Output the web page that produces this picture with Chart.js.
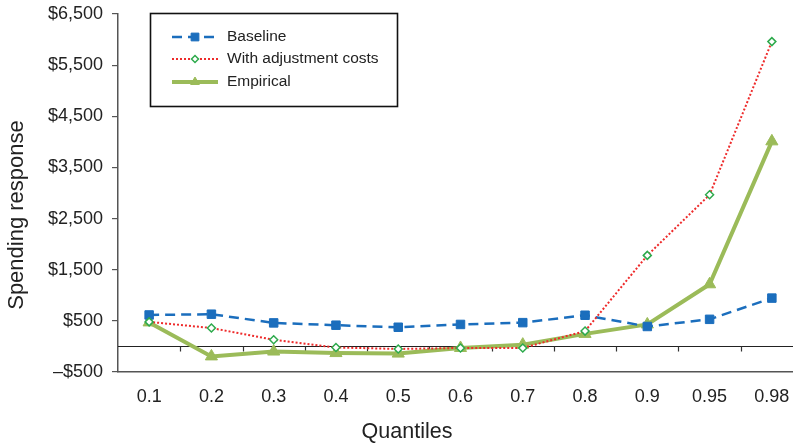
<!DOCTYPE html>
<html>
<head>
<meta charset="utf-8">
<script src="https://cdn.jsdelivr.net/npm/chart.js@4.4.1/dist/chart.umd.min.js"></script>
<style>
  html, body { margin: 0; padding: 0; background: #fff; overflow: hidden; }
  #wrap { width: 811px; height: 445px; }
</style>
</head>
<body>
<div id="wrap"><canvas id="c" width="811" height="445"></canvas></div>
<script>
const categories = ['0.1', '0.2', '0.3', '0.4', '0.5', '0.6', '0.7', '0.8', '0.9', '0.95', '0.98'];
const baseline = [615, 630, 460, 415, 375, 430, 465, 610, 390, 530, 945];
const adjustment = [480, 360, 130, -20, -50, -30, -30, 300, 1780, 2965, 5960];
const empirical = [470, -195, -100, -130, -140, -30, 35, 245, 430, 1215, 4010];
const yTickMin = -500, yTickMax = 6500, yTickStep = 1000;
const xTitle = 'Quantiles';
const yTitle = 'Spending response';

const FONT = "'Liberation Sans', Arial, Helvetica, sans-serif";
const TXT = '#222';

const extras = {
  id: 'extras',
  beforeDatasetsDraw(chart) {
    const { ctx, chartArea: { left, right }, scales: { y } } = chart;
    const y0 = Math.round(y.getPixelForValue(0)) + 0.5;
    ctx.save();
    ctx.strokeStyle = '#222';
    ctx.lineWidth = 1.2;
    ctx.beginPath();
    ctx.moveTo(left, y0);
    ctx.lineTo(right, y0);
    ctx.stroke();
    const w = (right - left) / categories.length;
    ctx.strokeStyle = '#333';
    ctx.beginPath();
    for (let k = 1; k < categories.length; k++) {
      const px = Math.round(left + k * w) + 0.5;
      ctx.moveTo(px, y0);
      ctx.lineTo(px, y0 + 5);
    }
    ctx.stroke();
    ctx.restore();
  },
  afterDraw(chart) {
    const { ctx } = chart;
    ctx.save();
    ctx.fillStyle = TXT;
    ctx.textAlign = 'center';
    ctx.textBaseline = 'middle';
    ctx.font = '21.5px ' + FONT;
    ctx.fillText(xTitle, 407, 432);
    ctx.save();
    ctx.translate(17, 215);
    ctx.rotate(-Math.PI / 2);
    ctx.font = '22px ' + FONT;
    ctx.fillText(yTitle, 0, 0);
    ctx.restore();
    ctx.fillStyle = '#fff';
    ctx.fillRect(150, 13, 248, 94);
    ctx.strokeStyle = '#111';
    ctx.lineWidth = 1.6;
    ctx.strokeRect(150.5, 13.5, 247, 93);
    const rows = [37, 59, 82];
    chart.data.datasets.forEach((ds, i) => {
      const yy = rows[i];
      ctx.save();
      ctx.strokeStyle = ds.borderColor;
      ctx.lineWidth = ds.borderWidth;
      ctx.setLineDash(ds.borderDash || []);
      ctx.beginPath();
      ctx.moveTo(172, yy);
      ctx.lineTo(218, yy);
      ctx.stroke();
      ctx.setLineDash([]);
      ctx.fillStyle = ds.pointBackgroundColor;
      ctx.strokeStyle = ds.pointBorderColor;
      ctx.lineWidth = ds.pointBorderWidth;
      Chart.helpers.drawPoint(ctx, {
        pointStyle: ds.pointStyle,
        radius: ds.legendRadius,
        rotation: 0,
        borderWidth: ds.pointBorderWidth
      }, 195, yy);
      ctx.restore();
      ctx.fillStyle = TXT;
      ctx.font = '15.5px ' + FONT;
      ctx.textBaseline = 'middle';
      ctx.textAlign = 'left';
      ctx.fillText(ds.label, 227, yy);
    });
    ctx.restore();
  }
};

new Chart(document.getElementById('c'), {
  type: 'line',
  data: {
    labels: categories,
    datasets: [
      {
        label: 'Baseline',
        data: baseline,
        borderColor: '#1b6ebd',
        borderWidth: 2.5,
        borderDash: [10, 6],
        pointStyle: 'rect',
        pointRadius: 6,
        legendRadius: 5.5,
        pointBackgroundColor: '#1b6ebd',
        pointBorderColor: '#1b6ebd',
        pointBorderWidth: 1,
        tension: 0,
        order: 2
      },
      {
        label: 'With adjustment costs',
        data: adjustment,
        borderColor: '#ee2b2b',
        borderWidth: 2,
        borderDash: [2, 2],
        pointStyle: 'rectRot',
        pointRadius: 4,
        legendRadius: 3.5,
        pointBackgroundColor: '#ffffff',
        pointBorderColor: '#2daa4c',
        pointBorderWidth: 1.5,
        tension: 0,
        order: 1
      },
      {
        label: 'Empirical',
        data: empirical,
        borderColor: '#9bbb59',
        borderWidth: 4,
        pointStyle: 'triangle',
        pointRadius: 7,
        legendRadius: 5,
        pointBackgroundColor: '#9bbb59',
        pointBorderColor: '#9bbb59',
        pointBorderWidth: 1,
        tension: 0,
        order: 3
      }
    ]
  },
  options: {
    responsive: false,
    animation: false,
    devicePixelRatio: 1,
    layout: { padding: { top: 14, right: 4, bottom: 0, left: 0 } },
    plugins: { legend: { display: false }, tooltip: { enabled: false } },
    scales: {
      x: {
        offset: true,
        grid: { display: false, drawTicks: false },
        border: { display: true, color: '#555', width: 1.5 },
        ticks: { color: TXT, font: { family: FONT, size: 18 }, padding: 14, maxRotation: 0, autoSkip: false },
        title: { display: false },
        afterFit(scale) { scale.height = 73; }
      },
      y: {
        min: yTickMin,
        max: yTickMax,
        grid: { display: true, drawOnChartArea: false, drawTicks: true, tickLength: 6, color: '#555', lineWidth: 1.2 },
        border: { display: true, color: '#555', width: 1.5 },
        ticks: {
          stepSize: yTickStep,
          color: TXT,
          font: { family: FONT, size: 18 },
          padding: 9,
          callback: v => (v < 0 ? '\u2013$' : '$') + Math.abs(v).toLocaleString('en-US')
        },
        title: { display: false },
        afterFit(scale) { scale.width = 118; scale.paddingTop = 0; scale.paddingBottom = 0; }
      }
    }
  },
  plugins: [extras]
});
</script>
</body>
</html>
